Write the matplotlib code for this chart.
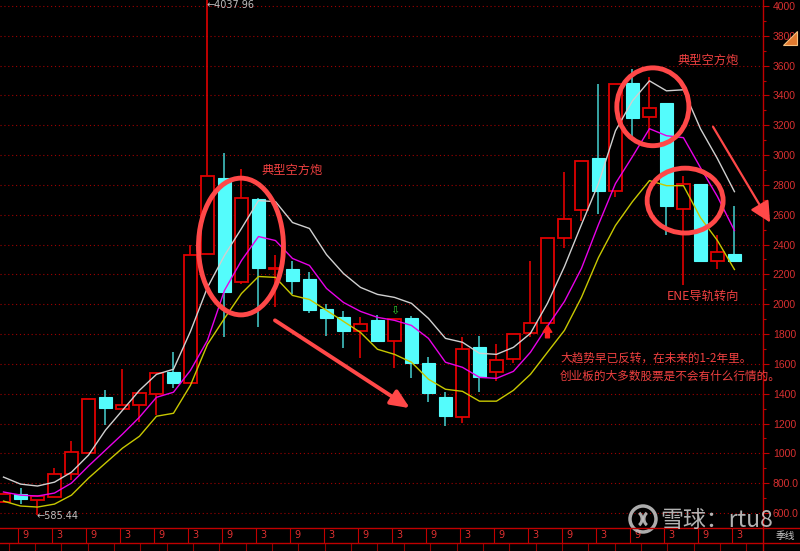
import matplotlib
matplotlib.use('Agg')
import matplotlib.pyplot as plt
from matplotlib.patches import Rectangle, Ellipse, Polygon, Arc
from matplotlib.lines import Line2D
import numpy as np

plt.rcParams['font.family'] = ['Noto Sans CJK SC', 'DejaVu Sans']

# 季线 K 线数据
opens = [674, 727, 687, 707, 861, 1002, 1376, 1296, 1323, 1396, 1544, 1470, 2340, 2849, 2146,
         2708, 2236, 2233, 2166, 1965, 1912, 1818, 1892, 1751, 1905, 1604, 1376, 1243, 1711, 1544,
         1631, 1805, 1872, 2447, 2635, 2983, 2762, 3485, 3257, 3351, 2641, 2809, 2293, 2340]
closes = [727, 694, 714, 861, 1008, 1363, 1303, 1323, 1403, 1537, 1470, 2333, 2862, 2079, 2715,
          2240, 2243, 2153, 1959, 1905, 1818, 1865, 1751, 1898, 1604, 1403, 1249, 1698, 1510, 1624,
          1798, 1872, 2441, 2574, 2963, 2762, 3478, 3250, 3317, 2661, 2809, 2287, 2347, 2293]
highs = [727, 767, 714, 901, 1082, 1363, 1423, 1564, 1403, 1537, 1678, 2400, 4037.96, 3016, 2909,
         2715, 2327, 2293, 2213, 1999, 1952, 1912, 1925, 1898, 1918, 1644, 1410, 1778, 1785, 1731,
         1798, 2287, 2441, 2889, 2963, 3478, 3478, 3578, 3525, 3351, 2862, 2809, 2461, 2661]
lows = [674, 660, 585.44, 707, 821, 1002, 1189, 1296, 1209, 1256, 1437, 1470, 2340, 1778, 2139,
        1845, 1979, 2066, 1939, 1785, 1704, 1637, 1751, 1570, 1504, 1343, 1182, 1202, 1410, 1483,
        1604, 1778, 1872, 2380, 2561, 2608, 2722, 3096, 3110, 2467, 2126, 2280, 2233, 2293]

# ENE 上轨 / 中轨 / 下轨
ene_upper = [841, 794, 781, 807, 874, 988, 1156, 1289, 1423, 1530, 1564, 1818, 2113, 2327, 2508,
             2695, 2688, 2548, 2508, 2333, 2206, 2113, 2066, 2046, 2006, 1905, 1771, 1745, 1671, 1664,
             1711, 1805, 2006, 2253, 2534, 2809, 3163, 3364, 3498, 3431, 3438, 3177, 2976, 2755]
ene_mid = [741, 720, 714, 734, 801, 915, 1022, 1129, 1243, 1376, 1410, 1557, 1758, 2093, 2293,
           2454, 2427, 2307, 2260, 2106, 2012, 1952, 1912, 1892, 1858, 1771, 1611, 1577, 1510, 1503,
           1550, 1678, 1852, 2019, 2240, 2534, 2809, 2990, 3177, 3130, 3117, 2916, 2722, 2494]
ene_lower = [680, 647, 640, 660, 720, 834, 935, 1035, 1115, 1249, 1269, 1457, 1731, 1905, 2072,
             2186, 2180, 2059, 2032, 1959, 1885, 1811, 1698, 1664, 1611, 1497, 1430, 1416, 1350, 1350,
             1423, 1530, 1678, 1825, 2046, 2313, 2528, 2688, 2829, 2795, 2795, 2581, 2427, 2233]

price_ticks = list(range(600, 4001, 200))
tick_labels = ['600.0', '800.0'] + [str(v) for v in price_ticks[2:]]
month_labels = ['9', '3'] * 11

RED = '#e00000'
CYAN = '#54fcfc'
TXT = '#f04040'

W, H = 800, 551


def fpx(x, y):
    return x / W, 1 - y / H


fig = plt.figure(figsize=(8, 5.51), dpi=100, facecolor='black')
ax = fig.add_axes([0, 23 / H, 763 / W, 528 / H])
ax.set_facecolor('black')
ax.set_xlim(-0.206, 44.68)
ax.set_ylim(499.6, 4040)

for v in price_ticks:
    ax.axhline(v, color='#a00000', lw=0.8, ls=(0, (1, 2.5)), zorder=0)

x = np.arange(len(opens))
bw = 0.74
for i in x:
    o, c, h, l = opens[i], closes[i], highs[i], lows[i]
    if c >= o:
        ax.vlines(i, c, h, color=RED, lw=1.2, zorder=2)
        ax.vlines(i, l, o, color=RED, lw=1.2, zorder=2)
        ax.add_patch(Rectangle((i - bw / 2, o), bw, max(c - o, 1), fc='black', ec=RED, lw=1.3, zorder=3))
    else:
        ax.vlines(i, l, h, color='#40c0c0', lw=1.2, zorder=2)
        ax.add_patch(Rectangle((i - bw / 2, c), bw, o - c, fc=CYAN, ec=CYAN, lw=0.8, zorder=3))

ax.plot(x, ene_upper, color='#d0d0d0', lw=1, zorder=4)
ax.plot(x, ene_mid, color='#e800e8', lw=1, zorder=4)
ax.plot(x, ene_lower, color='#c8c800', lw=1, zorder=4)

# 圈
for cx, cy, ew, eh in [(13.97, 2387, 5.0, 917), (38.2, 3324, 4.24, 522), (40.1, 2695, 4.47, 435)]:
    ax.add_patch(Ellipse((cx, cy), ew, eh, fill=False, ec='#ff4848', lw=3.5, zorder=6))

# 箭头
ax.annotate('', xy=(23.91, 1303), xytext=(15.97, 1892), annotation_clip=False,
            arrowprops=dict(arrowstyle='-|>,head_length=0.8,head_width=0.35', color='#ff4848',
                            lw=2.8, shrinkA=0, shrinkB=0, mutation_scale=14), zorder=6)
ax.annotate('', xy=(45.1, 2548), xytext=(41.74, 3190), annotation_clip=False,
            arrowprops=dict(arrowstyle='-|>,head_length=0.9,head_width=0.45', color='#ff4848',
                            lw=1.6, shrinkA=0, shrinkB=0, mutation_scale=14), zorder=6)
ax.text(23, 1959, '⇩', color='#30d030', fontsize=8, ha='center', va='center',
        family='DejaVu Sans', zorder=6)
ax.annotate('', xy=(32, 1858), xytext=(32, 1775),
            arrowprops=dict(arrowstyle='simple,head_width=0.9,head_length=0.7,tail_width=0.4',
                            fc='#ff2020', ec='#ff2020', mutation_scale=7, shrinkA=0, shrinkB=0), zorder=6)

# 最高 / 最低价标注
ax.text(11.95, 4008, '←4037.96', color='#c0c0c0', fontsize=7, ha='left', va='center',
        family='DejaVu Sans', zorder=7)
ax.text(1.95, 580, '←585.44', color='#c0c0c0', fontsize=7, ha='left', va='center',
        family='DejaVu Sans', zorder=7)

for s in ['top', 'left', 'bottom']:
    ax.spines[s].set_visible(False)
ax.spines['right'].set_color('#c00000')
ax.spines['right'].set_linewidth(1)
ax.set_xticks([])
ax.yaxis.tick_right()
ax.set_yticks(price_ticks)
ax.set_yticklabels(tick_labels)
ax.set_yticks(list(range(700, 4000, 200)), minor=True)
ax.tick_params(axis='y', which='major', colors='#c00000', labelcolor='#d83030', labelsize=7.5,
               length=4, width=0.8, pad=3)
ax.tick_params(axis='y', which='minor', colors='#c00000', length=2, width=0.8)
for lab in ax.get_yticklabels():
    lab.set_family('Liberation Sans')

# 文字
fig.text(*fpx(262, 170), '典型空方炮', color=TXT, fontsize=8.8, va='center', ha='left')
fig.text(*fpx(677, 60), '典型空方炮', color=TXT, fontsize=8.8, va='center', ha='left')
fig.text(*fpx(667, 296), 'ENE导轨转向', color=TXT, fontsize=8.8, va='center', ha='left')
fig.text(*fpx(560, 358), '大趋势早已反转，在未来的1-2年里。', color=TXT, fontsize=8.4, va='center', ha='left')
fig.text(*fpx(560, 376), '创业板的大多数股票是不会有什么行情的。', color=TXT, fontsize=8.4, va='center', ha='left')

# 底部时间轴
axb = fig.add_axes([0, 0, 763 / W, 23 / H])
axb.set_xlim(-0.206, 44.68)
axb.set_ylim(0, 23)
axb.axis('off')
for k, lab in enumerate(month_labels):
    pos = 2 * k + 1
    axb.vlines(pos - 0.17, 8, 23, color='#c00000', lw=0.8)
    axb.text(pos + 0.12, 15.5, lab, color='#e03030', fontsize=7, ha='left', va='center',
             family='DejaVu Sans')
for xs in np.arange(0.3, 44.5, 1.55):
    axb.vlines(xs, 0, 8, color='#900000', lw=0.8)

fig.add_artist(Line2D([0, 1], [1 - 528 / H, 1 - 528 / H], color='#c00000', lw=1))
fig.add_artist(Line2D([0, 1], [1 - 543 / H, 1 - 543 / H], color='#c00000', lw=1))
fig.add_artist(Line2D([763 / W, 763 / W], [0, 1 - 528 / H], color='#c00000', lw=1))
fig.text(*fpx(785, 536), '季线', color='#c8c8c8', fontsize=7, ha='center', va='center')

# 水印
fig.add_artist(Ellipse(fpx(643, 519), 26 / W, 26 / H, fill=False, ec='#d8d8d8', lw=2.5, alpha=0.8,
                       transform=fig.transFigure))
fig.add_artist(Arc(fpx(634, 519), 16 / W, 16 / H, theta1=-60, theta2=60, ec='#d8d8d8', lw=2.2,
                   alpha=0.8, transform=fig.transFigure))
fig.add_artist(Arc(fpx(652, 519), 16 / W, 16 / H, theta1=120, theta2=240, ec='#d8d8d8', lw=2.2,
                   alpha=0.8, transform=fig.transFigure))
fig.text(*fpx(660, 520), '雪球：rtu8', color='#e0e0e0', fontsize=16.5, alpha=0.8, ha='left', va='center')

# 右上角小图标
fig.add_artist(Polygon([fpx(783, 45), fpx(797, 45), fpx(797, 31)], closed=True, fc='#e07a30',
                       ec='#f5c080', lw=0.8, transform=fig.transFigure))

fig.savefig('out.png', dpi=100, facecolor='black')
